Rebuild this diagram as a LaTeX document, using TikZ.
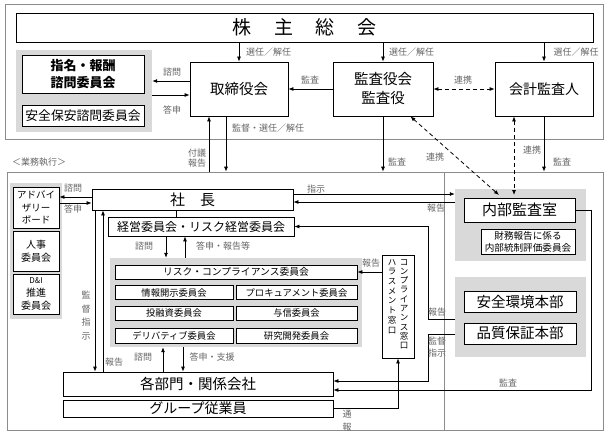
\documentclass[tikz,border=0pt]{standalone}
\usepackage{fontspec}
\setmainfont{Noto Sans CJK JP}
\usetikzlibrary{arrows.meta}
\newcommand{\fs}[1]{\fontsize{#1}{#1}\selectfont}
\begin{document}
\begin{tikzpicture}[x=1pt,y=-1pt,
  bx/.style={draw, line width=0.8pt, fill=white, inner sep=0pt, align=center},
  ga/.style={fill=black!15, draw=none, inner sep=0pt},
  fr/.style={draw=black!45, line width=0.6pt},
  lbl/.style={text=black!60, font=\fontsize{9}{11}\selectfont, inner sep=0pt, align=center},
  arr/.style={-{Latex[length=5pt,width=4pt]}, line width=0.8pt},
  darr/.style={{Latex[length=5pt,width=4pt]}-{Latex[length=5pt,width=4pt]}, line width=0.8pt, dash pattern=on 4pt off 3pt},
  ln/.style={line width=0.8pt}]
\useasboundingbox (0,0) rectangle (610,436);
\fill[white] (0,0) rectangle (610,436);
% frames
\draw[fr] (5,4) rectangle (603,139);
\node[fr, minimum width=596pt, minimum height=258pt, inner sep=0pt] (exec) at (305,301) {};
\draw[fr] (444,0 |- exec.north) -- (444,0 |- exec.south);
\node[lbl, anchor=west] (gyomu) at (12,162) {＜業務執行＞};
% gray areas
\node[ga, minimum width=136pt, minimum height=82pt] (g1) at (84,91) {};
\node[ga, minimum width=52pt, minimum height=136pt] (gL) at (36,251) {};
\node[ga, minimum width=252pt, minimum height=89pt] (gC) at (236,302.5) {};
\node[ga, minimum width=131pt, minimum height=72pt] (gIA) at (520.5,225) {};
\node[ga, minimum width=131pt, minimum height=80pt] (gS) at (520.5,317) {};
% governance boxes
\node[bx, minimum width=577pt, minimum height=29pt, font=\fs{19}] (sh) at (304.5,27.5) {株\hspace{1.2em}主\hspace{1.2em}総\hspace{1.2em}会};
\node[bx, minimum width=98pt, minimum height=54pt, font=\fs{14.5}] (tori) at (239,89) {取締役会};
\node[bx, minimum width=100pt, minimum height=54pt, font=\fontsize{14.5}{19}\selectfont] (kansa) at (383,89) {監査役会\\監査役};
\node[bx, minimum width=98pt, minimum height=54pt, font=\fs{14}] (kaikei) at (544,89) {会計監査人};
\node[bx, minimum width=122pt, minimum height=38pt, font=\fontsize{13}{17}\selectfont\bfseries] (shimei) at (83,74) {指名・報酬\\諮問委員会};
\node[bx, minimum width=122pt, minimum height=21pt, font=\fs{12.8}] (hoan) at (83,115.5) {安全保安諮問委員会};
% execution boxes
\node[bx, minimum width=201pt, minimum height=21pt, font=\fs{15}] (shacho) at (192.5,199.5) {社\hspace{1em}長};
\node[bx, minimum width=186pt, minimum height=19pt, font=\fs{12}] (keiei) at (201,226.5) {経営委員会・リスク経営委員会};
\node[bx, minimum width=46pt, minimum height=41pt, font=\fontsize{9.5}{12.5}\selectfont] (adv) at (36,207.5) {アドバイ\\ザリー\\ボード};
\node[bx, minimum width=46pt, minimum height=40pt, font=\fontsize{10}{13.5}\selectfont] (jinji) at (36,251) {人事\\委員会};
\node[bx, minimum width=46pt, minimum height=40pt, font=\fontsize{10}{13}\selectfont] (dni) at (36,294) {{\fs{8}D\&I}\\推進\\委員会};
\node[bx, minimum width=242pt, minimum height=14pt, font=\fs{9.8}] (risk) at (236,272) {リスク・コンプライアンス委員会};
\node[bx, minimum width=118pt, minimum height=13.5pt, font=\fs{9.3}] (joho) at (174,292.5) {情報開示委員会};
\node[bx, minimum width=121pt, minimum height=13.5pt, font=\fs{9.3}] (proc) at (296.5,292.5) {プロキュアメント委員会};
\node[bx, minimum width=118pt, minimum height=14pt, font=\fs{9.3}] (toyu) at (174,313) {投融資委員会};
\node[bx, minimum width=121pt, minimum height=14pt, font=\fs{9.3}] (yoshin) at (296.5,313) {与信委員会};
\node[bx, minimum width=118pt, minimum height=15pt, font=\fs{9.3}] (deri) at (174,335.5) {デリバティブ委員会};
\node[bx, minimum width=121pt, minimum height=15pt, font=\fs{9.3}] (kenkyu) at (296.5,335.5) {研究開発委員会};
\node[bx, minimum width=32pt, minimum height=103pt] (comp) at (398,306.5) {};
\node[inner sep=0pt, anchor=north, align=center, font=\fontsize{8.5}{9.3}\selectfont] (compR) at (404,259) {コ\\ン\\プ\\ラ\\イ\\ア\\ン\\ス\\窓\\口};
\node[inner sep=0pt, anchor=north, align=center, font=\fontsize{8.5}{9.7}\selectfont] (compL) at (392,259) {ハ\\ラ\\ス\\メ\\ン\\ト\\窓\\口};
\node[bx, minimum width=111pt, minimum height=24pt, font=\fs{15}] (naibu) at (519.5,210) {内部監査室};
\node[bx, minimum width=94pt, minimum height=25pt, font=\fontsize{9.6}{12}\selectfont] (zaimu) at (528,241.5) {財務報告に係る\\内部統制評価委員会};
\node[bx, minimum width=112pt, minimum height=21pt, font=\fs{14.5}] (anzen) at (520,301.5) {安全環境本部};
\node[bx, minimum width=112pt, minimum height=21pt, font=\fs{14.5}] (hinshitsu) at (520,333.5) {品質保証本部};
\node[bx, minimum width=270pt, minimum height=24pt, font=\fs{14.5}] (kakubu) at (198,384) {各部門・関係会社};
\node[bx, minimum width=270pt, minimum height=17pt, font=\fs{14}] (group) at (198,408.5) {グループ従業員};
% governance connectors
\draw[arr] (tori.north |- sh.south) -- (tori.north);
\node[lbl] (l1) at (268.5,52) {選任／解任};
\draw[arr] (kansa.north |- sh.south) -- (kansa.north);
\node[lbl] (l2) at (411.5,52) {選任／解任};
\draw[arr] (kaikei.north |- sh.south) -- (kaikei.north);
\node[lbl] (l3) at (576,52) {選任／解任};
\draw[arr] (tori.west |- 0,81) -- (g1.east |- 0,81);
\node[lbl] (l4) at (172,72) {諮問};
\draw[arr] (g1.east |- 0,95) -- (tori.west |- 0,95);
\node[lbl] (l5) at (172,110) {答申};
\draw[arr] (kansa.west) -- (tori.east);
\node[lbl] (l6) at (310,80) {監査};
\draw[darr] (kansa.east) -- (kaikei.west);
\node[lbl] (l7) at (463,80) {連携};
\draw[arr] (209,0 |- exec.north) -- (209,0 |- tori.south);
\node[lbl, font=\fontsize{9}{10.5}\selectfont] (l8) at (197,158) {付議\\報告};
\draw[arr] (226,0 |- tori.south) -- (226,0 |- exec.north);
\node[lbl] (l9) at (268,128) {監督・選任／解任};
\draw[arr] (kansa.south) -- (kansa.south |- exec.north);
\node[lbl] (l10) at (397,162) {監査};
\draw[arr] (kaikei.south) -- (kaikei.south |- exec.north);
\node[lbl] (l11) at (562,162) {監査};
\coordinate (d1) at (499,195);
\draw[darr] (kansa.-45) -- (d1);
\node[lbl] (l12) at (435,157) {連携};
\draw[darr] (514,0 |- kaikei.south) -- (514,195);
\node[lbl] (l13) at (532,150) {連携};
% execution connectors
\draw[arr] (shacho.east |- 0,194) -- (gIA.west |- 0,194);
\node[lbl] (l14) at (316,189) {指示};
\draw[arr] (gIA.west |- 0,202) -- (shacho.east |- 0,202);
\node[lbl] (l15) at (436,208) {報告};
\draw[arr] (shacho.west |- 0,197) -- (adv.east |- 0,197);
\node[lbl] (l16) at (73,188) {諮問};
\draw[arr] (adv.east |- 0,203) -- (shacho.west |- 0,203);
\node[lbl] (l17) at (73,209) {答申};
\draw[ln] (176,0 |- shacho.south) -- (176,0 |- keiei.north);
\draw[arr] (166,0 |- keiei.south) -- (166,0 |- gC.north);
\node[lbl] (l18) at (144,246) {諮問};
\draw[arr] (185,0 |- gC.north) -- (185,0 |- keiei.south);
\node[lbl] (l19) at (223,246) {答申・報告等};
\draw[arr] (gS.west |- 0,319) -| (428,0 |- keiei.east) -- (keiei.east);
\node[lbl] (l20) at (437,312) {報告};
\draw[arr] (gS.west |- 0,334) -| (428,381) -- (kakubu.east |- 0,381);
\node[lbl, font=\fontsize{9}{12}\selectfont] (l21) at (437,347) {監督\\指示};
\draw[arr] (naibu.east) -| (591,390) -- (kakubu.east |- 0,390);
\node[lbl] (l22) at (508,383) {監査};
\draw[arr] (comp.west |- risk.east) -- (risk.east);
\node[lbl] (l23) at (371,263) {報告};
\draw[arr] (group.east) -| (comp.south);
\node[lbl, font=\fontsize{9}{13}\selectfont] (l24) at (347,421) {通\\報};
\draw[arr] (95,0 |- shacho.south) -- (95,0 |- kakubu.north);
\node[lbl, font=\fontsize{9}{13.7}\selectfont] (l25) at (86,315.5) {監\\督\\指\\示};
\draw[arr] (103,0 |- kakubu.north) -- (103,0 |- shacho.south);
\node[lbl] (l26) at (114,362) {報告};
\draw[arr] (163,0 |- kakubu.north) -- (163,0 |- gC.south);
\node[lbl] (l27) at (143,357) {諮問};
\draw[arr] (183,0 |- gC.south) -- (183,0 |- kakubu.north);
\node[lbl] (l28) at (212,357) {答申・支援};
\end{tikzpicture}
\end{document}
